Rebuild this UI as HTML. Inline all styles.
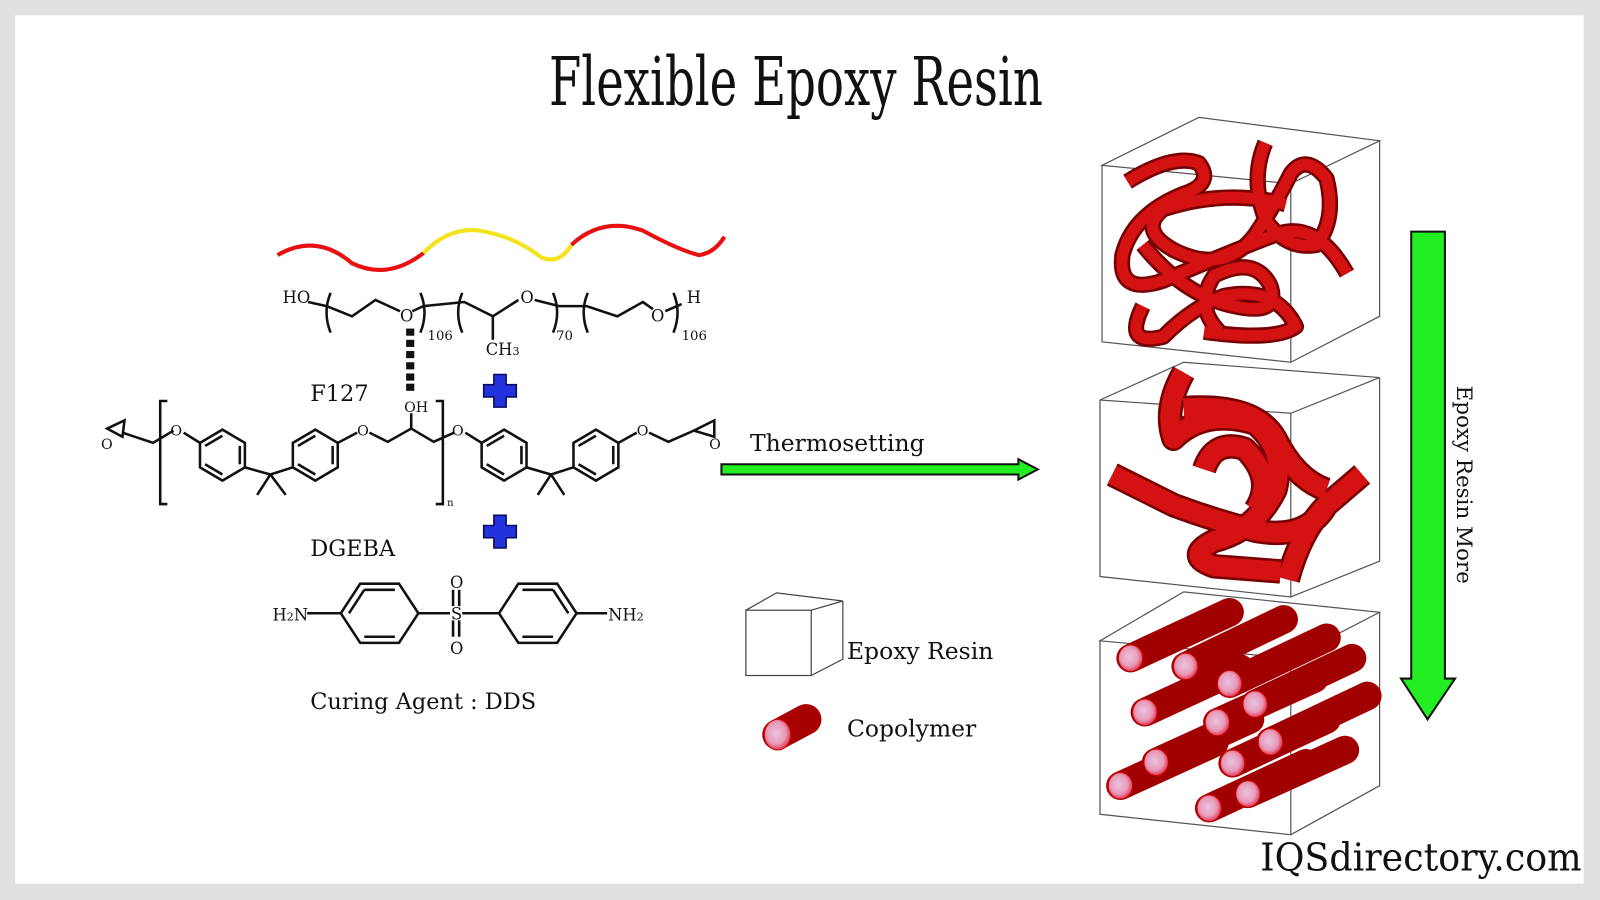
<!DOCTYPE html>
<html><head><meta charset="utf-8"><style>
html,body{margin:0;padding:0;background:#e0e0e0}
svg{display:block}
text{font-family:"DejaVu Serif","Liberation Serif",serif}
</style></head><body>
<svg width="1600" height="900" viewBox="0 0 1568 882" preserveAspectRatio="none" xmlns="http://www.w3.org/2000/svg">
<defs>
<radialGradient id="pk" cx="45%" cy="45%" r="60%"><stop offset="0" stop-color="#e8c4e0"/><stop offset="0.6" stop-color="#e89ab8"/><stop offset="1" stop-color="#e0203a"/></radialGradient>
</defs>
<rect x="0" y="0" width="1568" height="882" fill="#e0e0e0"/>
<rect x="15" y="15" width="1537" height="851" fill="#fff"/>
<text x="780" y="103" text-anchor="middle" font-size="66" textLength="484" lengthAdjust="spacingAndGlyphs" fill="#111">Flexible Epoxy Resin</text>

<!-- wave -->
<path d="M272,250 Q310,228 345,258 Q380,275 415,248" fill="none" stroke="#e81010" stroke-width="4"/>
<path d="M415,248 Q440,222 470,226 Q505,232 530,252 Q548,260 560,240" fill="none" stroke="#f4e21a" stroke-width="4"/>
<path d="M560,240 Q590,212 630,226 Q665,245 685,250 Q700,248 710,232" fill="none" stroke="#e81010" stroke-width="4"/>

<!-- F127 -->
<g fill="none" stroke="#111" stroke-width="2.5">
<path d="M324,287 Q316,306 324,326"/><path d="M412,287 Q420,306 412,326"/>
<path d="M453,287 Q445,306 453,326"/><path d="M542,287 Q550,306 542,326"/>
<path d="M576,287 Q568,306 576,326"/><path d="M660,287 Q668,306 660,326"/>
<path d="M302,296 L320,300 L345,310 L368,294 L392,305"/>
<path d="M404,305 L415,300 L455,296 L483,310 L508,294"/>
<path d="M483,310 L483,333"/>
<path d="M524,294 L548,300 L575,300 L605,310 L630,296 L640,303"/>
<path d="M652,305 L668,298"/>
</g>
<g font-size="16" fill="#111">
<text x="277" y="297">HO</text><text x="392" y="315">O</text><text x="510" y="297">O</text><text x="638" y="315">O</text><text x="673" y="297">H</text>
<text x="419" y="333" font-size="13">106</text><text x="545" y="333" font-size="13">70</text><text x="668" y="333" font-size="13">106</text>
<text x="476" y="348">CH<tspan font-size="11">3</tspan></text>
</g>
<g fill="#111"><rect x="398" y="322" width="8" height="7"/><rect x="398" y="333" width="8" height="7"/><rect x="398" y="344" width="8" height="7"/><rect x="398" y="355" width="8" height="7"/><rect x="398" y="366" width="8" height="7"/><rect x="398" y="376" width="8" height="7"/></g>
<text x="304" y="393" font-size="22" fill="#111">F127</text>

<!-- plus signs -->
<g fill="#2233dd" stroke="#0a0a60" stroke-width="1.5">
<path d="M484,367 h12 v10 h10 v12 h-10 v10 h-12 v-10 h-10 v-12 h10z"/>
<path d="M484,505 h12 v10 h10 v12 h-10 v10 h-12 v-10 h-10 v-12 h10z"/>
</g>

<!-- DGEBA -->
<g fill="none" stroke="#111" stroke-width="2.5">
<path d="M164,393 h-7 v101 h7"/><path d="M427,393 h7 v101 h-7"/>
<path d="M105,420 L122,412 L120,428 Z"/><path d="M120,424 L150,434 L170,422"/>
<path d="M180,424 L196,434"/>
<polygon points="196,434 218,421 240,434 240,458 218,471 196,458"/>
<path d="M201,437 L218,427 M235,437 L235,455 M218,465 L201,455"/>
<path d="M240,458 L265,465 L287,458 M265,465 L252,485 M265,465 L280,485"/>
<polygon points="287,434 309,421 331,434 331,458 309,471 287,458"/>
<path d="M292,437 L309,427 M326,437 L326,455 M309,465 L292,455"/>
<path d="M331,434 L350,424 M362,424 L380,433 L403,420 L425,433 L445,424 M403,420 L403,405"/>
<path d="M456,424 L472,434"/>
<polygon points="472,434 494,421 516,434 516,458 494,471 472,458"/>
<path d="M477,437 L494,427 M511,437 L511,455 M494,465 L477,455"/>
<path d="M516,458 L540,465 L562,458 M540,465 L527,485 M540,465 L553,485"/>
<polygon points="562,434 584,421 606,434 606,458 584,471 562,458"/>
<path d="M567,437 L584,427 M601,437 L601,455 M584,465 L567,455"/>
<path d="M606,434 L624,424 M636,424 L655,433 L680,422"/>
<path d="M680,422 L700,412 L700,428 Z"/>
</g>
<g font-size="14" fill="#111">
<text x="99" y="440">O</text><text x="167" y="427">O</text><text x="350" y="427">O</text><text x="396" y="404">OH</text>
<text x="443" y="427">O</text><text x="624" y="427">O</text><text x="695" y="440">O</text><text x="438" y="496" font-size="10">n</text>
</g>
<text x="304" y="545" font-size="22" fill="#111">DGEBA</text>

<!-- DDS -->
<g fill="none" stroke="#111" stroke-width="2.5">
<path d="M301,601 L334,601"/>
<polygon points="334,601 353,572 391,572 410,601 391,630 353,630"/>
<path d="M357,578 L387,578 M357,624 L387,624 M342,601 L357,578"/>
<path d="M410,601 L441,601 M453,601 L489,601"/>
<path d="M444,578 L444,594 M450,578 L450,594 M444,608 L444,624 M450,608 L450,624"/>
<polygon points="489,601 508,572 546,572 565,601 546,630 508,630"/>
<path d="M512,578 L542,578 M512,624 L542,624 M557,601 L542,578"/>
<path d="M565,601 L595,601"/>
</g>
<g font-size="16" fill="#111">
<text x="267" y="608">H<tspan font-size="11">2</tspan>N</text>
<text x="442" y="607">S</text><text x="441" y="576">O</text><text x="441" y="641">O</text>
<text x="596" y="608">NH<tspan font-size="11">2</tspan></text>
</g>
<text x="304" y="695" font-size="22" fill="#111">Curing Agent : DDS</text>

<!-- horizontal arrow -->
<text x="735" y="442" font-size="23" fill="#111">Thermosetting</text>
<path d="M707,455 L998,455 L998,450 L1017,460 L998,470 L998,465 L707,465 Z" fill="#22ee22" stroke="#111" stroke-width="2"/>

<!-- legend -->
<g fill="none" stroke="#444" stroke-width="1.2">
<rect x="731" y="598" width="64" height="64"/>
<path d="M731,598 L761,581 L826,589 L795,598 M826,589 L826,646 L795,662"/>
</g>
<text x="830" y="646" font-size="23" fill="#111">Epoxy Resin</text>
<path d="M762,720 L790,705" stroke="#a80000" stroke-width="30" stroke-linecap="round"/>
<ellipse cx="762" cy="720" rx="13" ry="15" fill="url(#pk)" stroke="#c00" stroke-width="1"/>
<text x="830" y="722" font-size="23" fill="#111">Copolymer</text>

<!-- boxes -->
<g fill="none" stroke="#555" stroke-width="1.2">
<path d="M1080,162 L1175,115 L1352,138 L1265,180 L1080,162 Z M1080,162 L1080,335 L1265,355 L1265,180 M1352,138 L1352,310 L1265,355"/>
<path d="M1078,392 L1160,355 L1352,370 L1265,405 L1078,392 Z M1078,392 L1078,565 L1265,585 L1265,405 M1352,370 L1352,550 L1265,585"/>
<path d="M1078,628 L1160,580 L1352,600 L1265,645 L1078,628 Z M1078,628 L1078,798 L1265,818 L1265,645 M1352,600 L1352,770 L1265,818"/>
</g>

<!-- coils top -->
<g fill="none" stroke-linecap="butt" stroke-linejoin="round">
<g stroke="#700" stroke-width="16">
<path d="M1105,178 Q1150,150 1175,160 Q1190,180 1160,190 Q1110,210 1100,250 Q1095,290 1140,275 Q1210,245 1250,230 Q1290,215 1320,268"/>
<path d="M1120,300 Q1100,340 1140,330 Q1170,300 1200,290 Q1250,280 1270,320 Q1250,335 1180,325"/>
<path d="M1240,140 Q1225,175 1240,215 Q1260,245 1290,240 Q1310,215 1300,175 Q1280,150 1265,170 Q1250,200 1230,230 Q1200,270 1150,245 Q1115,225 1140,205 Q1200,185 1260,200"/>
<path d="M1120,240 Q1160,290 1210,300 Q1255,310 1245,280 Q1230,250 1190,270 Q1170,300 1195,325"/>
</g>
<g stroke="#d41212" stroke-width="11">
<path d="M1105,178 Q1150,150 1175,160 Q1190,180 1160,190 Q1110,210 1100,250 Q1095,290 1140,275 Q1210,245 1250,230 Q1290,215 1320,268"/>
<path d="M1120,300 Q1100,340 1140,330 Q1170,300 1200,290 Q1250,280 1270,320 Q1250,335 1180,325"/>
<path d="M1240,140 Q1225,175 1240,215 Q1260,245 1290,240 Q1310,215 1300,175 Q1280,150 1265,170 Q1250,200 1230,230 Q1200,270 1150,245 Q1115,225 1140,205 Q1200,185 1260,200"/>
<path d="M1120,240 Q1160,290 1210,300 Q1255,310 1245,280 Q1230,250 1190,270 Q1170,300 1195,325"/>
</g>
</g>
<!-- coils middle -->
<g fill="none" stroke-linejoin="round">
<g stroke="#700" stroke-width="24">
<path d="M1160,365 Q1140,400 1150,430 Q1180,400 1230,415 Q1260,440 1250,480 Q1230,520 1190,530 Q1160,545 1190,555 L1255,560"/>
<path d="M1090,465 L1150,495 Q1190,510 1230,520 Q1280,530 1300,495 L1335,465"/>
<path d="M1160,400 Q1230,395 1250,430 Q1270,470 1300,480 M1180,460 Q1190,430 1220,440 Q1250,470 1230,500"/>
<path d="M1300,495 Q1275,520 1262,568"/>
</g>
<g stroke="#d41212" stroke-width="19">
<path d="M1160,365 Q1140,400 1150,430 Q1180,400 1230,415 Q1260,440 1250,480 Q1230,520 1190,530 Q1160,545 1190,555 L1255,560"/>
<path d="M1090,465 L1150,495 Q1190,510 1230,520 Q1280,530 1300,495 L1335,465"/>
<path d="M1160,400 Q1230,395 1250,430 Q1270,470 1300,480 M1180,460 Q1190,430 1220,440 Q1250,470 1230,500"/>
<path d="M1300,495 Q1275,520 1262,568"/>
</g>
</g>
<!-- cylinders -->
<g stroke-linecap="round">
<g stroke="#a00000" stroke-width="28">
<path d="M1108,645 L1205,600"/><path d="M1162,653 L1258,607"/><path d="M1205,670 L1300,625"/><path d="M1230,690 L1325,645"/>
<path d="M1122,698 L1215,655"/><path d="M1193,708 L1288,665"/><path d="M1245,727 L1340,682"/><path d="M1208,748 L1300,705"/>
<path d="M1133,747 L1225,705"/><path d="M1098,770 L1190,728"/><path d="M1223,778 L1318,735"/><path d="M1185,792 L1280,748"/>
</g>
<g fill="url(#pk)" stroke="#c00" stroke-width="1">
<ellipse cx="1108" cy="645" rx="12" ry="13"/><ellipse cx="1162" cy="653" rx="12" ry="13"/><ellipse cx="1205" cy="670" rx="12" ry="13"/><ellipse cx="1230" cy="690" rx="12" ry="13"/>
<ellipse cx="1122" cy="698" rx="12" ry="13"/><ellipse cx="1193" cy="708" rx="12" ry="13"/><ellipse cx="1245" cy="727" rx="12" ry="13"/><ellipse cx="1208" cy="748" rx="12" ry="13"/>
<ellipse cx="1133" cy="747" rx="12" ry="13"/><ellipse cx="1098" cy="770" rx="12" ry="13"/><ellipse cx="1223" cy="778" rx="12" ry="13"/><ellipse cx="1185" cy="792" rx="12" ry="13"/>
</g>
</g>

<!-- vertical arrow -->
<path d="M1383,227 L1416,227 L1416,665 L1426,665 L1399,705 L1373,665 L1383,665 Z" fill="#22ee22" stroke="#111" stroke-width="2"/>
<text transform="translate(1428,475) rotate(90)" text-anchor="middle" font-size="21" fill="#111">Epoxy Resin More</text>

<text x="1550" y="853" text-anchor="end" font-size="38" fill="#111" textLength="315" lengthAdjust="spacingAndGlyphs">IQSdirectory.com</text>
</svg>
</body></html>
